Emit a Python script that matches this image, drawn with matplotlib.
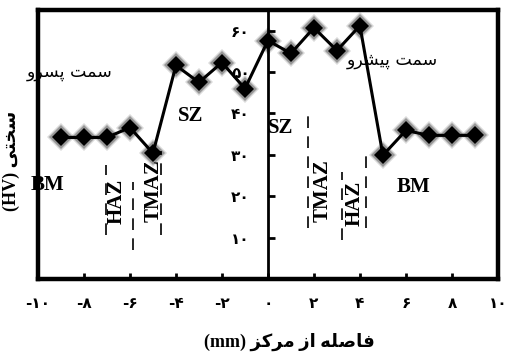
import matplotlib
matplotlib.use("Agg")
import matplotlib.pyplot as plt
from matplotlib.ticker import FuncFormatter

# hardness profile across the weld (mm, HV)
distance = [-9, -8, -7, -6, -5, -4, -3, -2, -1, 0, 1, 2, 3, 4, 5, 6, 7, 8, 9]
hardness = [34.2, 34.2, 34.2, 36.6, 30.4, 51.6, 47.5, 52.3, 46.0, 57.6,
            54.5, 60.7, 55.2, 61.2, 29.9, 35.9, 34.7, 34.7, 34.7]

x_ticks = [-10, -8, -6, -4, -2, 0, 2, 4, 6, 8, 10]
y_ticks = [10, 20, 30, 40, 50, 60]

# zone boundaries: (x, y_bottom, y_top)
boundaries = [(-7.04, 10.6, 27.5), (-5.87, 7.0, 23.4), (-4.65, 10.6, 31.0),
              (1.74, 12.3, 40.7), (3.2, 9.4, 25.8), (4.26, 12.3, 29.6)]

PERSIAN_DIGITS = "۰۱۲۳۴۵۶۷۸۹"

# presentation forms: isolated, final, initial, medial
FORMS = {
    "ا": ("\uFE8D", "\uFE8E", None, None),
    "ت": ("\uFE95", "\uFE96", "\uFE97", "\uFE98"),
    "خ": ("\uFEA5", "\uFEA6", "\uFEA7", "\uFEA8"),
    "ر": ("\uFEAD", "\uFEAE", None, None),
    "ز": ("\uFEAF", "\uFEB0", None, None),
    "س": ("\uFEB1", "\uFEB2", "\uFEB3", "\uFEB4"),
    "ش": ("\uFEB5", "\uFEB6", "\uFEB7", "\uFEB8"),
    "ص": ("\uFEB9", "\uFEBA", "\uFEBB", "\uFEBC"),
    "ف": ("\uFED1", "\uFED2", "\uFED3", "\uFED4"),
    "ل": ("\uFEDD", "\uFEDE", "\uFEDF", "\uFEE0"),
    "م": ("\uFEE1", "\uFEE2", "\uFEE3", "\uFEE4"),
    "ه": ("\uFEE9", "\uFEEA", "\uFEEB", "\uFEEC"),
    "و": ("\uFEED", "\uFEEE", None, None),
    "پ": ("\uFB56", "\uFB57", "\uFB58", "\uFB59"),
    "ک": ("\uFB8E", "\uFB8F", "\uFB90", "\uFB91"),
    "ی": ("\uFBFC", "\uFBFD", "\uFBFE", "\uFBFF"),
}


def shape(text):
    out = []
    for i, ch in enumerate(text):
        if ch not in FORMS:
            out.append(ch)
            continue
        prev = text[i - 1] if i > 0 else ""
        nxt = text[i + 1] if i + 1 < len(text) else ""
        joins_prev = prev in FORMS and FORMS[prev][2] is not None
        joins_next = FORMS[ch][2] is not None and nxt in FORMS
        iso, fin, ini, med = FORMS[ch]
        if joins_prev and joins_next:
            out.append(med)
        elif joins_prev:
            out.append(fin)
        elif joins_next:
            out.append(ini)
        else:
            out.append(iso)
    return "".join(reversed(out))


def fa_num(v, pos=None):
    s = "".join(PERSIAN_DIGITS[int(d)] for d in str(abs(int(round(v)))))
    return ("-" + s) if v < 0 else s


latin = ["Liberation Serif", "DejaVu Sans"]
farsi = ["DejaVu Sans"]

fig = plt.figure(figsize=(5.06, 3.55), dpi=100)
ax = fig.add_axes([0.075, 0.214, 0.909, 0.758])

ax.plot(distance, hardness, color="black", lw=2.2, zorder=3)
ax.plot(distance, hardness, ls="none", marker="D", ms=14, color="black",
        alpha=0.15, mew=0, zorder=4)
ax.plot(distance, hardness, ls="none", marker="D", ms=12, color="black",
        alpha=0.3, mew=0, zorder=4)
ax.plot(distance, hardness, ls="none", marker="D", ms=9.5, color="black",
        mew=0, zorder=5)

for bx, y0, y1 in boundaries:
    ax.plot([bx, bx], [y0, y1], color="black", lw=1.2, ls=(0, (7, 5)), zorder=2)

ax.set_xlim(-10, 10)
ax.set_ylim(0, 65)
for s in ax.spines.values():
    s.set_linewidth(3.2)

ax.set_xticks(x_ticks)
ax.xaxis.set_major_formatter(FuncFormatter(fa_num))
ax.tick_params(axis="x", direction="in", length=4, width=2, pad=12,
               labelsize=11)
for lab in ax.get_xticklabels():
    lab.set_fontweight("bold")
ax.set_yticks([])

sec = ax.secondary_yaxis(0.5)
sec.set_alignment("left")
sec.spines["left"].set_linewidth(2)
sec.set_yticks(y_ticks)
sec.yaxis.set_major_formatter(FuncFormatter(fa_num))
sec.tick_params(axis="y", direction="in", length=5, width=2, pad=13,
                labelsize=11)
for lab in sec.get_yticklabels():
    lab.set_fontweight("bold")

bold = dict(family=latin, fontweight="bold", fontsize=15, ha="center",
            va="center")
ax.text(-9.6, 22.7, "BM", **bold)
ax.text(-3.35, 39.3, "SZ", **bold)
ax.text(0.57, 36.4, "SZ", **bold)
ax.text(6.35, 22.2, "BM", **bold)
ax.text(-6.57, 18.8, "HAZ", rotation=90, **bold)
ax.text(-4.96, 21.4, "TMAZ", rotation=90, **bold)
ax.text(2.39, 21.4, "TMAZ", rotation=90, **bold)
ax.text(3.78, 18.3, "HAZ", rotation=90, **bold)

ax.text(-8.6, 49.9, shape("سمت پسرو"), family=farsi, fontsize=12.5,
        ha="center", va="center", zorder=6)
ax.text(5.43, 52.8, shape("سمت پیشرو"), family=farsi, fontsize=12.5,
        ha="center", va="center", zorder=6)

ax.text(-0.057, 0.44, "(HV) " + shape("سختی"), transform=ax.transAxes,
        rotation=90, family=latin, fontweight="bold", fontsize=13,
        ha="center", va="center")
ax.text(0.546, -0.234, "(mm) " + shape("فاصله از مرکز"), transform=ax.transAxes,
        family=latin, fontweight="bold", fontsize=13, ha="center",
        va="center")

fig.savefig("out.png", dpi=100)
